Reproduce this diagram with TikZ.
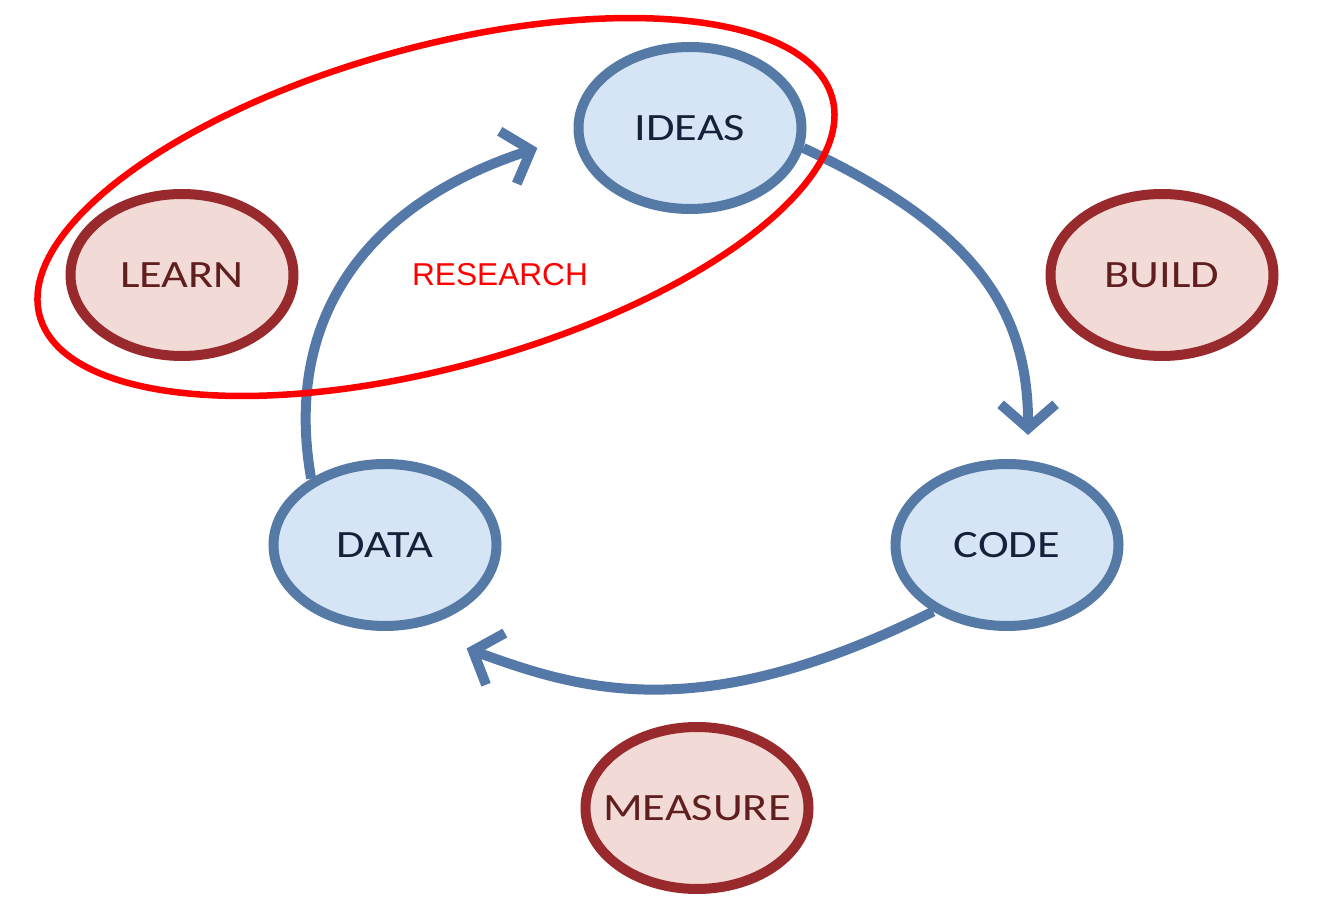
\documentclass[tikz,border=0pt]{standalone}
\usepackage{fontspec}
\usepackage{tikz}
\usepackage{xcolor}
\usetikzlibrary{arrows.meta,shapes.geometric}
\definecolor{ringblue}{RGB}{86, 122, 166}
\definecolor{fillblue}{RGB}{214, 229, 245}
\definecolor{flowblue}{RGB}{84, 120, 168}
\definecolor{navytext}{RGB}{22, 32, 58}
\definecolor{ringred}{RGB}{152, 42, 45}
\definecolor{fillred}{RGB}{242, 219, 214}
\definecolor{maroontext}{RGB}{96, 30, 30}
\definecolor{markred}{RGB}{255, 0, 0}
\newfontfamily\circfont[FakeStretch=1.2]{Carlito}
\newfontfamily\notefont{Liberation Sans}

\begin{document}
\begin{tikzpicture}[
      stage/.style={ellipse,draw=ringblue,line width=0.2cm,fill=fillblue,
        minimum width=4.46cm,minimum height=3.24cm,text=navytext,font=\circfont\fontsize{22}{26}\selectfont},
      action/.style={stage,draw=ringred,fill=fillred,text=maroontext},
      flow/.style={draw=flowblue,line width=0.2cm,
        -{Straight Barb[length=0.48cm,width=1.1cm]}},
      research/.style={draw=markred,line width=0.13cm}
    ]
    \useasboundingbox (0,0) rectangle (26.66,18.32);

    \node[stage] (ideas) at (13.8,15.76) {IDEAS};
    \node[stage] (code) at (20.14,7.42) {CODE};
    \node[stage] (data) at (7.7,7.42) {DATA};
    \node[action] (learn) at (3.64,12.82) {LEARN};
    \node[action] (build) at (23.24,12.82) {BUILD};
    \node[action] (measure) at (13.94,2.16) {\makebox[0pt]{MEASURE}};

    \draw[flow,shorten >=0.51cm] (ideas.-10) .. controls +(-25:3.8cm) and +(90:3cm) .. (code.76);
    \draw[flow,shorten >=1.16cm] (code.222) .. controls +(206.5:5.2cm) and +(-20:3.6cm) .. (data.-72);
    \draw[flow,shorten >=0.77cm] (data.138) .. controls +(100:3.4cm) and +(198:4.2cm) .. (ideas.184);

    % research loop round learn and ideas
    \coordinate (rc) at (8.72,14.18);
    \draw[research,rotate around={15.4:(rc)}] (rc) ellipse (8.22cm and 3.2cm);
    \node[text=markred,font=\notefont\fontsize{18}{22}\selectfont] (rlabel) at (10.0,12.82) {RESEARCH};
  \end{tikzpicture}
\end{document}
